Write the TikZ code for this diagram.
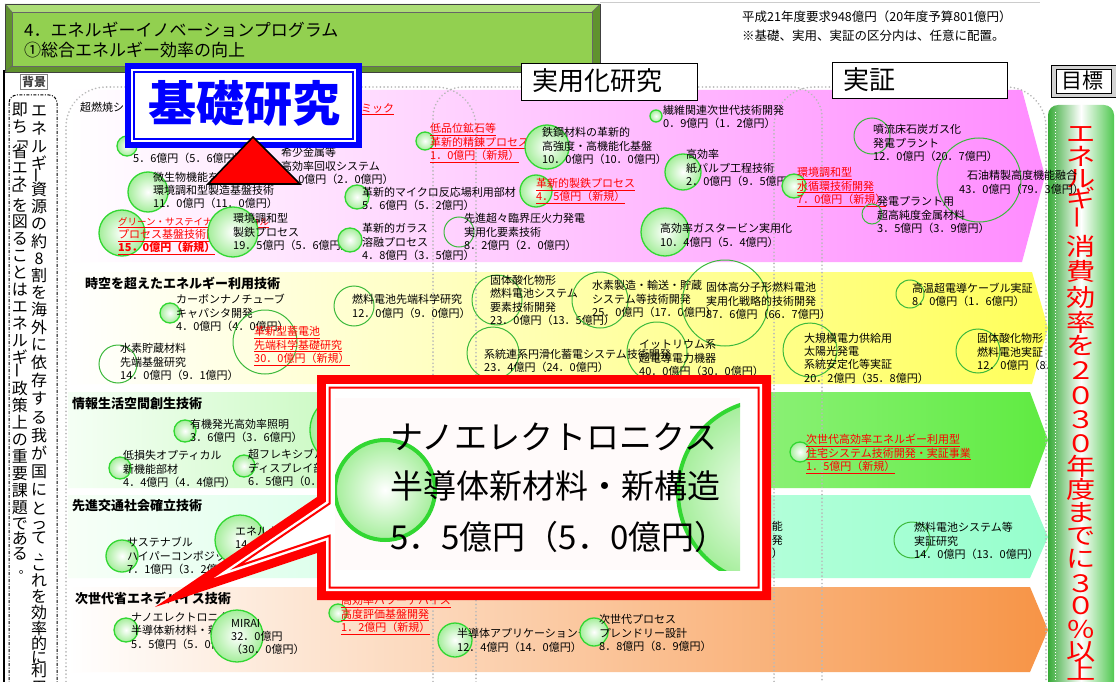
\documentclass[tikz,border=0pt]{standalone}
\usepackage{fontspec}
\setmainfont{Noto Sans CJK JP}
\definecolor{tgreen}{RGB}{146,208,80}
\definecolor{tgreenL}{RGB}{172,222,118}
\definecolor{tgreenD}{RGB}{96,146,46}
\definecolor{bubline}{RGB}{50,215,50}
\definecolor{ringline}{RGB}{60,185,60}
\definecolor{bubfill}{RGB}{165,238,155}
\definecolor{pinkR}{RGB}{255,140,255}
\definecolor{yelR}{RGB}{255,255,90}
\definecolor{grnR}{RGB}{95,235,65}
\definecolor{mintR}{RGB}{150,255,205}
\definecolor{orgR}{RGB}{247,148,70}
\definecolor{goalD}{RGB}{55,170,55}
\definecolor{goalR}{RGB}{80,200,80}
\definecolor{hblue}{RGB}{0,0,255}
\definecolor{cred}{RGB}{255,0,0}
\newcommand\ulr[1]{\underline{#1}}
\newcommand\wideg[1]{\scalebox{1.22}[1]{#1}}
\tikzset{
 bub/.style={circle, draw=bubline, line width=1.3, inner color=white, outer color=bubfill, inner sep=0},
 ring/.style={circle, draw=ringline, line width=1, inner sep=0},
 txt/.style={anchor=west, inner sep=0, align=left, font=\fontsize{11}{13.3}\selectfont},
 rtxt/.style={txt, text=cred},
 rowtitle/.style={anchor=west, inner sep=0, font=\bfseries\fontsize{13}{15}\selectfont},
 vch/.style={inner sep=0, font=\fontsize{16}{16}\selectfont, text height=12.5, text depth=1.5},
 vsm/.style={inner sep=0, font=\fontsize{12}{12}\selectfont, text height=9, text depth=1},
 gch/.style={inner sep=0, text=cred, font=\fontsize{24}{24}\selectfont, text height=18, text depth=3},
 coldot/.style={draw=gray!55, line width=1.8, dash pattern=on 0.1pt off 3.6pt, line cap=round},
 hdr/.style={draw=black, line width=1.2, fill=white, inner sep=0},
 bigtxt/.style={anchor=west, inner sep=0, font=\fontsize{33}{33}\selectfont},
}
\begin{document}
\begin{tikzpicture}[x=1pt,y=-1pt]
\useasboundingbox (0,0) rectangle (1116,682);
\fill[white] (0,0) rectangle (1116,682);
\draw[gray!40, line width=0.8] (600,2) -- (1040,2);

% ---------- bands ----------
\shade[left color=white, right color=pinkR] (68,90) -- (1022,90) -- (1045,176) -- (1022,262) -- (68,262) -- cycle;
\shade[left color=white, right color=yelR] (68,272) -- (1032,272) -- (1048,328) -- (1032,384) -- (68,384) -- cycle;
\shade[left color=green!4, right color=grnR] (68,392) -- (1030,392) -- (1048,440) -- (1030,488) -- (68,488) -- cycle;
\shade[left color=green!3, right color=mintR] (68,495) -- (1030,495) -- (1048,537) -- (1030,578) -- (68,578) -- cycle;
\shade[left color=white, right color=orgR] (68,587) -- (1030,587) -- (1048,630) -- (1030,672) -- (68,672) -- cycle;

% ---------- dotted columns ----------
\draw[coldot, rounded corners=40] (66,700) -- (66,87) -- (476,87) -- (476,700);
\draw[coldot, rounded corners=30] (433,700) -- (433,87) -- (822,87) -- (822,700);
\draw[coldot, rounded corners=40] (774,700) -- (774,87) -- (1046,87) -- (1046,700);

% ---------- pink row ----------
\node[txt] (chou) at (80,107) {超燃焼システム};
\node[rtxt] (cera) at (361,109) {\ulr{ミック}};
\node[bub, minimum size=20] (ba) at (127,146) {};
\node[txt] (ta) at (133,158) {5．6億円（5．6億円）};
\node[txt] (tb) at (281,166) {希少金属等\\高効率回収システム\\2．0億円（2．0億円）};
\node[bub, minimum size=40] (bc) at (148,192) {};
\node[txt] (tc) at (153,190.5) {微生物機能を活用した\\環境調和型製造基盤技術\\11．0億円（11．0億円）};
\node[bub, minimum size=46] (bd) at (122,233) {};
\node[rtxt] (td) at (118,236) {\ulr{\fontsize{9.5}{13.3}\selectfont グリーン・サステイナブルケミカル}\\\ulr{プロセス基盤技術開発}\\\ulr{\bfseries 15．0億円（新規）}};
\node[bub, minimum size=50] (be) at (233,232) {};
\node[txt] (te) at (233,232) {環境調和型\\製鉄プロセス\\19．5億円（5．6億円）};
\node[bub, minimum size=24] (bf) at (357,197) {};
\node[txt] (tf) at (362,199) {革新的マイクロ反応場利用部材\\5．6億円（5．2億円）};
\node[bub, minimum size=24] (bg) at (350,240) {};
\node[txt] (tg) at (362,242) {革新的ガラス\\溶融プロセス\\4．8億円（3．5億円）};
\node[bub, minimum size=18] (bh) at (425,141) {};
\node[rtxt] (th) at (430,143) {\ulr{低品位鉱石等}\\\ulr{革新的精錬プロセス}\\\ulr{1．0億円（新規）}};
\node[bub, minimum size=44] (bi) at (547,147) {};
\node[txt] (ti) at (542,146) {鉄鋼材料の革新的\\高強度・高機能化基盤\\10．0億円（10．0億円）};
\node[bub, minimum size=12] (bj) at (656,116) {};
\node[txt] (tj) at (663,117) {繊維関連次世代技術開発\\0．9億円（1．2億円）};
\node[bub, minimum size=36] (bk) at (683,172) {};
\node[txt] (tk) at (686,168) {高効率\\紙パルプ工程技術\\2．0億円（9．5億円）};
\node[bub, minimum size=32] (bl) at (536,191) {};
\node[rtxt] (tl) at (536,191) {\ulr{革新的製鉄プロセス}\\\ulr{4．5億円（新規）}};
\node[ring, minimum size=30] (bm) at (459,232) {};
\node[txt] (tm) at (464,232) {先進超々臨界圧火力発電\\実用化要素技術\\8．2億円（2．0億円）};
\node[bub, minimum size=48] (bn) at (665,232) {};
\node[txt] (tn) at (660,235.5) {高効率ガスタービン実用化\\10．4億円（5．4億円）};
\node[bub, minimum size=24] (bo) at (794,186) {};
\node[rtxt] (to) at (797,187) {\ulr{環境調和型}\\\ulr{水循環技術開発}\\\ulr{7．0億円（新規）}};
\node[ring, minimum size=36] (bp) at (872,136) {};
\node[txt] (tp) at (873,143) {噴流床石炭ガス化\\発電プラント\\12．0億円（20．7億円）};
\node[ring, minimum size=84] (bq) at (979,180) {};
\node[ring, minimum size=20] (br) at (872,214) {};
\node[txt] (tr) at (877,215) {発電プラント用\\超高純度金属材料\\3．5億円（3．9億円）};

% ---------- yellow row ----------
\node[rowtitle] (row2) at (85,283) {時空を超えたエネルギー利用技術};
\node[bub, minimum size=20] (bs) at (170,313) {};
\node[txt] (ts) at (176,313) {カーボンナノチューブ\\キャパシタ開発\\4．0億円（4．0億円）};
\node[ring, minimum size=64] (bt) at (265,342) {};
\node[rtxt] (tt) at (254,346) {\ulr{革新型蓄電池}\\\ulr{先端科学基礎研究}\\\ulr{30．0億円（新規）}};
\node[ring, minimum size=38] (bu) at (118,364) {};
\node[txt] (tu) at (120,362) {水素貯蔵材料\\先端基盤研究\\14．0億円（9．1億円）};
\node[ring, minimum size=40] (bv) at (354,306) {};
\node[txt] (tv) at (352,306.5) {燃料電池先端科学研究\\12．0億円（9．0億円）};
\node[ring, minimum size=50] (bw) at (497,300) {};
\node[txt] (tw) at (490,300.5) {固体酸化物形\\燃料電池システム\\要素技術開発\\23．0億円（13．5億円）};
\node[ring, minimum size=56] (bx) at (600,300) {};
\node[txt] (tx) at (592,299) {水素製造・輸送・貯蔵\\システム等技術開発\\25．0億円（17．0億円）};
\node[ring, minimum size=86] (by) at (725,303) {};
\node[txt] (ty) at (706,301) {固体高分子形燃料電池\\実用化戦略的技術開発\\87．6億円（66．7億円）};
\node[ring, minimum size=28] (bz) at (910,294) {};
\node[txt] (tz) at (912,295) {高温超電導ケーブル実証\\8．0億円（1．6億円）};
\node[ring, minimum size=54] (baa) at (810,350) {};
\node[txt] (taa) at (804,358) {大規模電力供給用\\太陽光発電\\系統安定化等実証\\20．2億円（35．8億円）};
\node[ring, minimum size=44] (bbb) at (978,351) {};
\node[txt] (tbb) at (977,352) {固体酸化物形\\燃料電池実証\\12．0億円（8．0億円）};
\node[ring, minimum size=52] (bcc) at (493,353) {};
\node[txt] (tcc) at (484,361) {系統連系円滑化蓄電システム技術開発\\23．4億円（24．0億円）};
\node[ring, minimum size=60] (bdd) at (657,352) {};
\node[txt] (tdd) at (639,358) {イットリウム系\\超電導電力機器\\40．0億円（30．0億円）};

% ---------- green row ----------
\node[rowtitle] (row3) at (72,404) {情報生活空間創生技術};
\node[bub, minimum size=22] (bee) at (185,431) {};
\node[txt] (tee) at (190,431) {有機発光高効率照明\\3．6億円（3．6億円）};
\node[bub, minimum size=22] (bff) at (120,468) {};
\node[txt] (tff) at (123,469) {低損失オプティカル\\新機能部材\\4．4億円（4．4億円）};
\node[bub, minimum size=22] (bgg) at (244,466) {};
\node[txt] (tgg) at (248,468) {超フレキシブル\\ディスプレイ部材\\6．5億円（0．2億円）};
\node[bub, minimum size=70] (bhh) at (345,430) {};
\node[bub, minimum size=20] (bii) at (800,452) {};
\node[rtxt] (tii) at (806,454) {\ulr{次世代高効率エネルギー利用型}\\\ulr{住宅システム技術開発・実証事業}\\\ulr{1．5億円（新規）}};

% ---------- mint row ----------
\node[rowtitle] (row4) at (72,506) {先進交通社会確立技術};
\node[bub, minimum size=32] (bjj) at (122,556) {};
\node[txt] (tjj) at (127,556) {サステナブル\\ハイパーコンポジット\\7．1億円（3．2億円）};
\node[bub, minimum size=50] (bkk) at (240,540) {};
\node[txt] (tkk) at (235,537) {エネルギー\\14．};
\node[txt, anchor=east, align=right] (tfrag) at (783,540) {能\\発\\円）};
\node[ring, minimum size=36] (bqq) at (912,540) {};
\node[txt] (tqq) at (914,541) {燃料電池システム等\\実証研究\\14．0億円（13．0億円）};

% ---------- orange row ----------
\node[rowtitle] (row5) at (75,598) {次世代省エネデバイス技術};
\node[bub, minimum size=24] (bll) at (126,630) {};
\node[txt] (tll) at (131,631) {ナノエレクトロニクス\\半導体新材料・新構造\\5．5億円（5．0億円）};
\node[bub, minimum size=52] (bmm) at (237,636) {};
\node[txt] (tmm) at (231,637) {MIRAI\\32．0億円\\（30．0億円）};
\node[bub, minimum size=18] (bnn) at (338,613) {};
\node[rtxt] (tnn) at (341,615) {\ulr{高効率パワーデバイス}\\\ulr{高度評価基盤開発}\\\ulr{1．2億円（新規）}};
\node[bub, minimum size=34] (boo) at (455,640) {};
\node[txt] (too) at (457,640.5) {半導体アプリケーションチップ\\12．4億円（14．0億円）};
\node[bub, minimum size=28] (bpp) at (594,632) {};
\node[txt] (tpp) at (599,633) {次世代プロセス\\フレンドリー設計\\8．8億円（8．9億円）};

% ---------- title box ----------
\fill[tgreenD] (5,4) rectangle (600,72);
\fill[tgreenL] (5,4) -- (600,4) -- (592,12) -- (12,12) -- cycle;
\draw[black!75, line width=0.8] (5,4) rectangle (600,72);
\draw[fill=tgreen, draw=black!60, line width=0.8] (12,12) rectangle (592,66);
\draw[black!60, line width=0.6] (5,4) -- (12,12) (600,4) -- (592,12) (600,72) -- (592,66) (5,72) -- (12,66);
\node[anchor=west, inner sep=0, font=\fontsize{17}{17}\selectfont] (ttl1) at (24,30) {4．エネルギーイノベーションプログラム};
\node[anchor=west, inner sep=0, font=\fontsize{17}{17}\selectfont] (ttl2) at (24,50) {①総合エネルギー効率の向上};
\node[anchor=west, inner sep=0, font=\fontsize{12.5}{12.5}\selectfont] (req1) at (742,17) {平成21年度要求948億円（20年度予算801億円）};
\node[anchor=west, inner sep=0, font=\fontsize{12.5}{12.5}\selectfont] (req2) at (742,36) {※基礎、実用、実証の区分内は、任意に配置。};

% ---------- left background ----------
\draw[black, line width=1.5] (4,70) -- (4,682);
\draw[black, line width=1, dash pattern=on 3pt off 1.5pt on 1pt off 1.5pt, rounded corners=8] (9,95) rectangle (57,700);
\node[draw=gray, fill=white, line width=0.8, inner sep=1.5pt, font=\bfseries\fontsize{12}{12}\selectfont, text=black!75] (haikei) at (34,82) {背景};
\foreach \y/\c in {111/エ,129/ネ,147/ル,164/ギ,190/資,207/源,224/の,242/約,259/8,276/割,293/を,310/海,328/外,345/に,363/依,381/存,399/す,418/る,436/我,454/が,472/国,490/に,509/と,524/っ,538/て,565/こ,581/れ,597/を,613/効,629/率,644/的,658/に,671/利,688/用}
  \node[vch] (vr\y) at (39,\y) {\c};
\node[vch] (vrbar) at (39,178) {\rotatebox{90}{ー}};
\node[vsm] (vrcomma) at (44,552) {、};
\foreach \y/\c in {110/即,127/ち,152/省,168/エ,184/ネ,206/を,222/図,239/る,256/こ,273/と,290/は,307/エ,324/ネ,341/ル,358/ギ,389/政,406/策,423/上,440/の,457/重,474/要,491/課,508/題,524/で,539/あ,554/る}
  \node[vch] (vl\y) at (20,\y) {\c};
\node[vch, rotate=-90] (vlo) at (20,139) {「};
\node[vch, rotate=-90] (vlc) at (20,194) {」};
\node[vch] (vlbar) at (20,373) {\rotatebox{90}{ー}};
\node[vsm] (vlmaru) at (25,569) {。};

% ---------- column headers ----------
\draw[hblue, line width=6, fill=white] (128,66) rectangle (359,145);
\draw[hblue, line width=1.2] (134,72) rectangle (353,139);
\node[inner sep=0, text=hblue, font=\bfseries\fontsize{48}{48}\selectfont] (kiso) at (244,103) {基礎研究};
\draw[fill=cred, draw=black, line width=1.6, line join=miter] (253,137) -- (300,184) -- (208,184) -- cycle;
\node[hdr, minimum width=176, minimum height=37, anchor=north west] (hjy) at (521,63) {};
\node[anchor=west, inner sep=0, font=\fontsize{26}{26}\selectfont] (tjy) at (532,81) {実用化研究};
\node[hdr, minimum width=175, minimum height=36, anchor=north west] (hjs) at (832,62) {};
\node[anchor=west, inner sep=0, font=\fontsize{26}{26}\selectfont] (tjs) at (843,80) {実証};

% ---------- goal bar ----------
\shade[left color=goalD, right color=goalR, middle color=white, rounded corners=10] (1048,105) rectangle (1114,700);
\draw[white, line width=1, dash pattern=on 1pt off 2pt] (1055,112) -- (1055,682);
\foreach \y/\c in {135/エ,158/ネ,180/ル,200/ギ,248/消,273/費,299/効,324/率,347/を,372/２,397/０,421/３,445/０,468/年,491/度,514/ま,537/で,560/に,585/３,607/０,631/％,653/以,672/上}
  \node[gch] (g\y) at (1081,\y) {\wideg{\c}};
\node[gch] (gbar) at (1081,222) {\rotatebox{90}{ー}};
\draw[fill=gray!35, draw=black, line width=0.8] (1051,65) rectangle (1118,97);
\draw[fill=white, draw=black, line width=0.8] (1056,69) rectangle (1111,93);
\node[inner sep=0, font=\fontsize{21}{21}\selectfont] (mokuhyo) at (1082,81) {目標};
\node[txt] (tq1) at (967,175) {石油精製高度機能融合};
\node[txt] (tq2) at (959,189) {43．0億円（79．3億円）};

% ---------- callout ----------
\fill[cred] (317,375) -- (771,375) -- (771,600) -- (317,600) -- (317,553) -- (155,607) -- (317,497) -- cycle;
\fill[white] (326,384) -- (762,384) -- (762,591) -- (326,591) -- (326,540.5) -- (214,578) -- (326,501.8) -- cycle;
\draw[cred, line width=2] (329.5,387.5) -- (758.5,387.5) -- (758.5,587.5) -- (329.5,587.5) -- (329.5,535.7) -- (236.8,566.6) -- (329.5,503.6) -- cycle;
\begin{scope}
\clip (335,398) rectangle (740,570);
\fill[red!2] (335,398) rectangle (740,570);
\node[circle, draw=bubline, line width=4, inner color=white, outer color=bubfill, minimum size=100, inner sep=0] (cbl) at (385,490) {};
\node[circle, draw=bubline, line width=4, inner color=white, outer color=bubfill, minimum size=184, inner sep=0] (cbr) at (770,492) {};
\node[bigtxt] (cl1) at (390,437) {ナノエレクトロニクス};
\node[bigtxt] (cl2) at (390,486) {半導体新材料・新構造};
\node[bigtxt] (cl3) at (390,537) {5．5億円（5．0億円）};
\end{scope}
\end{tikzpicture}
\end{document}
